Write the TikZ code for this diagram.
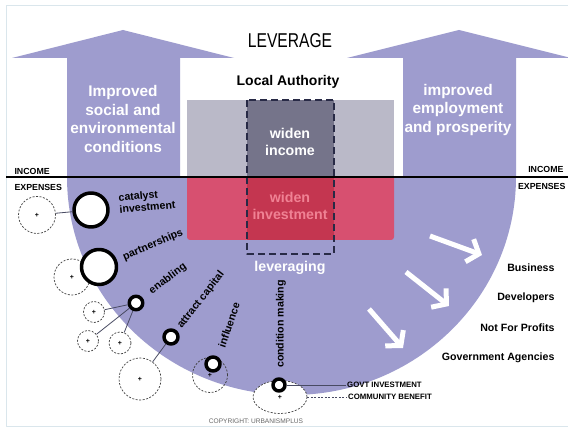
\documentclass[tikz,border=0pt]{standalone}
\usepackage{fontspec}
\setmainfont{Liberation Sans}
\usetikzlibrary{arrows.meta,shapes.geometric}
\definecolor{lev}{RGB}{158,156,206}
\definecolor{lagrey}{RGB}{186,185,200}
\definecolor{ladark}{RGB}{117,116,138}
\definecolor{lapink}{RGB}{215,80,112}
\definecolor{lared}{RGB}{196,54,80}
\definecolor{pinktext}{RGB}{240,130,148}
\definecolor{navy}{RGB}{40,42,70}
\definecolor{framecol}{RGB}{218,230,236}
\begin{document}
\begin{tikzpicture}[x=1pt, y=-1pt, line join=round,
  inv node/.style={circle,draw=black,fill=white,line width=3.5pt,inner sep=0pt},
  ben node/.style={circle,draw=black!75,dash pattern=on 2pt off 1.5pt,line width=0.7pt,inner sep=0pt,font=\fontsize{7}{7}\selectfont\bfseries},
  link/.style={navy!85,line width=0.8pt},
  lab/.style={font=\fontsize{10.6}{12}\selectfont\bfseries},
  side text/.style={font=\fontsize{10.6}{12}\selectfont\bfseries,anchor=base east},
  ie text/.style={font=\fontsize{8.8}{9}\selectfont\bfseries},
  govt text/.style={font=\fontsize{7.8}{8}\selectfont\bfseries,anchor=west,inner sep=1pt},
  big text/.style={text=white,align=center,font=\fontsize{15.4}{18.5}\selectfont\bfseries},
  box text/.style={text=white,align=center,font=\fontsize{14.2}{17}\selectfont\bfseries},
  out arrow/.style={white,line width=5pt,-{Straight Barb[length=10pt,width=24pt]}}]
\useasboundingbox (0,0) rectangle (568,430);
\clip (0,0) rectangle (568,430);
\fill[white] (0,0) rectangle (568,430);
\draw[framecol,line width=1pt] (6,6) rectangle (580,427);

% arrows and bowl
\fill[lev] (67,177) -- (67,58) -- (12,58) -- (123,30) -- (234,58) -- (180,58) -- (180,177)
  -- (403,177) -- (403,58) -- (347,58) -- (459,30) -- (571,58) -- (516,58) -- (516,177)
  arc[start angle=0,end angle=-180,x radius=224.5pt,y radius=218pt] -- cycle;

% local authority
\fill[lagrey] (187,100) rectangle (394,177);
\fill[ladark] (247,100) rectangle (334,177);
\fill[lapink] (187,177) [rounded corners=3pt] -- (187,240) -- (394,240) [sharp corners] -- (394,177) -- cycle;
\fill[lared] (247,177) rectangle (334,240);
\draw[navy,line width=2pt,dash pattern=on 7pt off 4pt] (247,100) rectangle (334,254);
\draw[line width=1.5pt] (6,177) -- (568,177);

\begin{scope}
\node[font=\fontsize{20}{20}\selectfont] (lev) at (290,41) {\scalebox{0.78}[1]{LEVERAGE}};
\node[font=\fontsize{14}{16}\selectfont\bfseries] (la) at (288,82) {Local Authority};
\node[box text] (winc) at (290,142) {widen\\income};
\node[box text,text=pinktext] (winv) at (290,206) {widen\\investment};
\node[box text] (levg) at (290,268) {leveraging};
\node[big text] (soc) at (123,119) {Improved\\social and\\environmental\\conditions};
\node[big text] (emp) at (458,110) {improved\\employment\\and prosperity};
\end{scope}

\begin{scope}[every node/.style={ie text}]
\node[anchor=base west] (inc1) at (11,174.5) {INCOME};
\node[anchor=base west] (exp1) at (11,190.5) {EXPENSES};
\node[anchor=base east] (inc2) at (567,172.5) {INCOME};
\node[anchor=base east] (exp2) at (569,189.5) {EXPENSES};
\end{scope}

% who benefits
\node[side text] (bus) at (558,272) {Business};%1
\node[side text] (dev) at (558,301) {Developers};%2
\node[side text] (nfp) at (558,332) {Not For Profits};%3
\node[side text] (gov) at (558,361) {Government Agencies};%4
\coordinate (a1) at (430,236); \coordinate (b1) at (482,255);
\coordinate (a2) at (406,272); \coordinate (b2) at (449,306);
\coordinate (a3) at (369,309); \coordinate (b3) at (403,348);
\draw[out arrow] (a1) -- (b1);
\draw[out arrow] (a2) -- (b2);
\draw[out arrow] (a3) -- (b3);

% expenses
\begin{scope}
\node[ben node,minimum size=37pt] (catb) at (37,215) {+};
\node[ben node,minimum size=36pt] (partb) at (72,277) {+};
\node[ben node,minimum size=21pt] (enb1) at (94,312) {+};
\node[ben node,minimum size=21pt] (enb2) at (88,341) {+};
\node[ben node,minimum size=22pt] (enb3) at (120,343) {+};
\node[ben node,minimum size=42pt] (attrb) at (140,379) {+};
\node[ben node,minimum size=35pt] (inflb) at (210,375) {+};
\node[ben node,ellipse,fill=white,minimum width=54pt,minimum height=33pt] (condb) at (280,397) {+};
\node[inv node,minimum size=34pt] (cat) at (91,210) {};%catalyst
\node[inv node,minimum size=35pt] (part) at (99,267) {};%partnerships
\node[inv node,minimum size=13.5pt] (enab) at (136,303) {};%enabling
\node[inv node,minimum size=14pt] (attr) at (171,337) {};%attract
\node[inv node,minimum size=14pt] (infl) at (213,364) {};%influence
\node[inv node,minimum size=12pt] (cond) at (279,385) {};%condition
\end{scope}
\begin{scope}[every node/.style={lab}]
\node[align=left,rotate=5] (catl) at (147,201) {catalyst\\investment};
\node[rotate=23] (partl) at (153,245) {partnerships};
\node[rotate=37] (enabl) at (168,279) {enabling};
\node[rotate=52] (attrl) at (201,300) {attract capital};
\node[rotate=71] (infll) at (229,325) {influence};
\node[rotate=90] (condl) at (281,324) {condition making};
\end{scope}
\node[govt text] (govt) at (346,385) {GOVT INVESTMENT};
\node[govt text] (comm) at (347,397) {COMMUNITY BENEFIT};
\begin{scope}
\draw[link] (catb) -- (cat);
\draw[link] (enab) -- (enb1);
\draw[link] (enab) -- (enb2);
\draw[link] (enab) -- (enb3);
\draw[link] (attrb) -- (attr);
\draw[link] (cond) -- (govt.west);
\draw[link,dash pattern=on 2pt off 1.5pt] (condb.east) -- (comm.west);
\end{scope}
\node[text=black!60,font=\fontsize{6.6}{7}\selectfont] (copy) at (256,421) {COPYRIGHT: URBANISMPLUS};
\end{tikzpicture}
\end{document}
